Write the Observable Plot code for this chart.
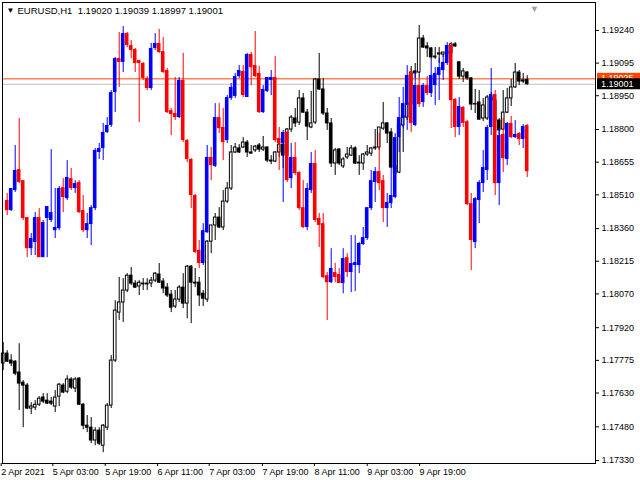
<!DOCTYPE html>
<html><head><meta charset="utf-8">
<script src="https://cdn.jsdelivr.net/npm/d3@7"></script>
<script src="https://cdn.jsdelivr.net/npm/@observablehq/plot@0.6"></script>
<style>body{margin:0;background:#fff}</style>
</head><body><div id="chart"></div>
<script>
const header = "EURUSD,H1  1.19020 1.19039 1.18997 1.19001";
const bOpen = [1.17761,1.17805,1.17774,1.17769,1.17721,1.17676,1.17663,1.17561,1.17565,1.17578,
1.17610,1.17596,1.17592,1.17570,1.17614,1.17663,1.17636,1.17690,1.17650,1.17694,
1.17578,1.17485,1.17476,1.17419,1.17463,1.17396,1.17476,1.17574,1.17774,1.17987,
1.18032,1.18085,1.18151,1.18116,1.18103,1.18116,1.18112,1.18116,1.18129,1.18156,
1.18125,1.18098,1.18067,1.18014,1.18045,1.18098,1.18027,1.18191,1.18120,1.18120,
1.18071,1.18045,1.18302,1.18374,1.18409,1.18365,1.18480,1.18538,1.18698,1.18716,
1.18720,1.18742,1.18698,1.18707,1.18729,1.18711,1.18720,1.18662,1.18658,1.18698,
1.18733,1.18684,1.18800,1.18849,1.18831,1.18938,1.18875,1.18809,1.18831,1.19022,
1.18978,1.18871,1.18827,1.18649,1.18711,1.18636,1.18676,1.18684,1.18716,1.18653,
1.18649,1.18689,1.18693,1.18720,1.18720,1.18804,1.18827,1.18787,1.18636,1.18609,
1.18818,1.18853,1.18911,1.19058,1.19053,1.19204,1.19169,1.19160,1.19124,1.19133,
1.19133,1.19142,1.19138,1.19178,1.19098,1.19035,1.19053,1.19027,1.18911,1.18920,
1.18849,1.18849,1.18942,1.18929,1.18840,1.18800,1.18875,1.18938,1.18987,1.19053,
1.19018,1.19020];
const bHigh = [1.17854,1.17818,1.17800,1.17774,1.17849,1.17685,1.17672,1.17587,1.17596,1.17614,
1.17627,1.17627,1.17610,1.17641,1.17672,1.17672,1.17707,1.17698,1.17698,1.17698,
1.17583,1.17530,1.17521,1.17476,1.17476,1.17490,1.17583,1.17796,1.18040,1.18143,
1.18138,1.18160,1.18187,1.18129,1.18129,1.18138,1.18138,1.18143,1.18165,1.18205,
1.18138,1.18116,1.18085,1.18085,1.18107,1.18160,1.18196,1.18196,1.18183,1.18143,
1.18085,1.18307,1.18374,1.18427,1.18453,1.18529,1.18565,1.18729,1.18738,1.18733,
1.18764,1.18751,1.18729,1.18729,1.18738,1.18769,1.18724,1.18684,1.18702,1.18738,
1.18738,1.18804,1.18862,1.18893,1.18973,1.18960,1.18889,1.18969,1.19027,1.19138,
1.19027,1.18893,1.18849,1.18716,1.18716,1.18676,1.18720,1.18729,1.18724,1.18684,
1.18693,1.18729,1.18720,1.18800,1.18809,1.18920,1.18831,1.18804,1.18676,1.18831,
1.18871,1.18929,1.19080,1.19093,1.19262,1.19218,1.19186,1.19164,1.19164,1.19164,
1.19142,1.19173,1.19186,1.19186,1.19102,1.19071,1.19058,1.19031,1.18978,1.18973,
1.18938,1.18951,1.18964,1.18938,1.18849,1.18973,1.18982,1.19022,1.19093,1.19062,
1.19049,1.19039];
const bLow = [1.17730,1.17765,1.17747,1.17707,1.17552,1.17476,1.17556,1.17534,1.17552,1.17570,
1.17583,1.17578,1.17574,1.17543,1.17570,1.17627,1.17627,1.17645,1.17632,1.17574,
1.17467,1.17454,1.17405,1.17396,1.17396,1.17365,1.17463,1.17561,1.17765,1.17952,
1.17943,1.18076,1.18107,1.18094,1.18063,1.18085,1.18085,1.18098,1.18120,1.18116,
1.18071,1.18054,1.17987,1.18005,1.18032,1.18005,1.17960,1.17938,1.18098,1.18014,
1.18014,1.18032,1.18249,1.18307,1.18360,1.18351,1.18471,1.18529,1.18693,1.18693,
1.18716,1.18676,1.18693,1.18698,1.18698,1.18702,1.18653,1.18644,1.18653,1.18676,
1.18627,1.18680,1.18787,1.18809,1.18818,1.18871,1.18751,1.18804,1.18822,1.18973,
1.18862,1.18796,1.18631,1.18596,1.18640,1.18627,1.18667,1.18680,1.18644,1.18596,
1.18618,1.18680,1.18680,1.18707,1.18707,1.18796,1.18738,1.18627,1.18565,1.18604,
1.18698,1.18840,1.18902,1.19027,1.19027,1.19160,1.19120,1.19106,1.19111,1.19093,
1.19120,1.19129,1.19129,1.19164,1.19022,1.19009,1.19018,1.18884,1.18871,1.18840,
1.18835,1.18840,1.18920,1.18818,1.18773,1.18796,1.18871,1.18902,1.18982,1.18995,
1.19004,1.18997];
const bClose = [1.17805,1.17769,1.17761,1.17716,1.17672,1.17663,1.17561,1.17570,1.17578,1.17605,
1.17592,1.17583,1.17583,1.17610,1.17667,1.17632,1.17690,1.17654,1.17690,1.17578,
1.17485,1.17476,1.17419,1.17463,1.17405,1.17485,1.17574,1.17774,1.17996,1.18032,
1.18085,1.18151,1.18116,1.18098,1.18120,1.18112,1.18116,1.18129,1.18160,1.18120,
1.18094,1.18063,1.18009,1.18045,1.18098,1.18027,1.18191,1.18120,1.18116,1.18063,
1.18049,1.18302,1.18374,1.18409,1.18365,1.18480,1.18538,1.18698,1.18720,1.18698,
1.18742,1.18698,1.18693,1.18724,1.18711,1.18720,1.18662,1.18658,1.18698,1.18733,
1.18684,1.18800,1.18853,1.18827,1.18938,1.18875,1.18813,1.18827,1.19022,1.18978,
1.18871,1.18827,1.18649,1.18707,1.18649,1.18667,1.18689,1.18716,1.18649,1.18649,
1.18689,1.18698,1.18716,1.18716,1.18809,1.18827,1.18782,1.18631,1.18604,1.18822,
1.18858,1.18915,1.19053,1.19049,1.19204,1.19164,1.19160,1.19120,1.19120,1.19138,
1.19142,1.19138,1.19178,1.19169,1.19035,1.19058,1.19027,1.18911,1.18913,1.18844,
1.18907,1.18942,1.18929,1.18840,1.18796,1.18875,1.18938,1.18987,1.19053,1.19013,
1.19013,1.19001];

const cStart = 1;
const cOpen = [1.18485,1.18440,1.18529,1.18622,1.18573,1.18409,1.18271,1.18298,1.18409,1.18231,
1.18405,1.18396,1.18351,1.18360,1.18542,1.18493,1.18582,1.18538,1.18565,1.18440,
1.18351,1.18378,1.18449,1.18698,1.18716,1.18787,1.18818,1.18964,1.19115,1.19098,
1.19226,1.19173,1.19155,1.19106,1.19093,1.19027,1.18982,1.19160,1.19182,1.19146,
1.19062,1.18884,1.18871,1.18853,1.19018,1.18751,1.18667,1.18507,1.18263,1.18205,
1.18342,1.18676,1.18636,1.18853,1.18809,1.18751,1.18938,1.18947,1.19035,1.19058,
1.18942,1.19133,1.19084,1.19049,1.18875,1.18969,1.19018,1.19031,1.18760,1.18738,
1.18787,1.18582,1.18676,1.18609,1.18453,1.18365,1.18529,1.18649,1.18405,1.18382,
1.18151,1.18120,1.18165,1.18156,1.18116,1.18231,1.18165,1.18196,1.18196,1.18289,
1.18316,1.18449,1.18565,1.18613,1.18573,1.18449,1.18471,1.18498,1.18764,1.18849,
1.18907,1.19049,1.18818,1.18995,1.18920,1.18995,1.18960,1.18995,1.19040,1.19062,
1.19093,1.19173,1.18933,1.18809,1.18898,1.18835,1.18471,1.18298,1.18485,1.18560,
1.18618,1.18809,1.18955,1.18560,1.18778,1.18667,1.18827,1.18764,1.18782,1.18756,1.18818];
const cHigh = [1.18516,1.18538,1.18729,1.18849,1.18573,1.18409,1.18338,1.18431,1.18449,1.18396,
1.18458,1.18711,1.18538,1.18547,1.18582,1.18662,1.18627,1.18573,1.18573,1.18507,
1.18427,1.18462,1.18716,1.18738,1.18827,1.18853,1.18973,1.19120,1.19231,1.19257,
1.19231,1.19195,1.19160,1.19106,1.19098,1.19035,1.19182,1.19226,1.19244,1.19209,
1.19071,1.18893,1.19031,1.19031,1.19138,1.18756,1.18671,1.18511,1.18307,1.18382,
1.18729,1.18720,1.18915,1.18915,1.18893,1.18951,1.19004,1.19049,1.19084,1.19084,
1.19138,1.19142,1.19235,1.19080,1.18995,1.19031,1.19062,1.19124,1.18809,1.18796,
1.18791,1.18738,1.18742,1.18613,1.18573,1.18560,1.18698,1.18707,1.18427,1.18427,
1.18165,1.18271,1.18205,1.18183,1.18271,1.18249,1.18329,1.18329,1.18298,1.18365,
1.18453,1.18618,1.18631,1.18782,1.18596,1.18516,1.18631,1.18782,1.18942,1.18987,
1.19084,1.19071,1.19053,1.19027,1.19004,1.19035,1.19106,1.19075,1.19115,1.19129,
1.19186,1.19182,1.18938,1.18942,1.18902,1.18840,1.18516,1.18498,1.18573,1.18707,
1.18818,1.19071,1.18973,1.18804,1.18849,1.18831,1.18858,1.18840,1.18787,1.18822,1.18822];
const cLow = [1.18418,1.18436,1.18520,1.18560,1.18396,1.18231,1.18240,1.18240,1.18231,1.18231,
1.18231,1.18387,1.18316,1.18351,1.18431,1.18485,1.18529,1.18516,1.18427,1.18342,
1.18316,1.18285,1.18440,1.18667,1.18662,1.18782,1.18809,1.18875,1.18987,1.19053,
1.19164,1.19115,1.19053,1.18831,1.19018,1.18973,1.18973,1.19151,1.19138,1.19049,
1.18871,1.18773,1.18840,1.18849,1.18742,1.18653,1.18449,1.18249,1.18183,1.18196,
1.18338,1.18573,1.18631,1.18782,1.18662,1.18738,1.18929,1.18938,1.19027,1.18942,
1.18942,1.18995,1.19031,1.18871,1.18871,1.18964,1.18951,1.18742,1.18618,1.18476,
1.18565,1.18538,1.18596,1.18440,1.18360,1.18351,1.18516,1.18387,1.18276,1.18138,
1.17952,1.18116,1.18120,1.18116,1.18071,1.18143,1.18076,1.18080,1.18160,1.18285,
1.18307,1.18440,1.18476,1.18529,1.18387,1.18365,1.18449,1.18493,1.18698,1.18804,
1.18796,1.18787,1.18813,1.18898,1.18898,1.18951,1.18942,1.18907,1.18929,1.19018,
1.19084,1.18804,1.18764,1.18773,1.18809,1.18462,1.18174,1.18271,1.18382,1.18520,
1.18573,1.18773,1.18507,1.18462,1.18609,1.18640,1.18760,1.18760,1.18729,1.18716,1.18587];
const cClose = [1.18440,1.18538,1.18618,1.18565,1.18405,1.18271,1.18316,1.18409,1.18231,1.18387,
1.18458,1.18431,1.18365,1.18538,1.18498,1.18587,1.18538,1.18560,1.18431,1.18351,
1.18382,1.18453,1.18707,1.18716,1.18787,1.18818,1.18964,1.19115,1.19098,1.19226,
1.19173,1.19151,1.19093,1.19093,1.19027,1.18982,1.19160,1.19182,1.19142,1.19053,
1.18875,1.18867,1.18853,1.19018,1.18751,1.18667,1.18507,1.18254,1.18205,1.18351,
1.18676,1.18640,1.18853,1.18804,1.18742,1.18942,1.18987,1.19035,1.19062,1.18951,
1.19133,1.19075,1.19035,1.18875,1.18978,1.19031,1.19031,1.18751,1.18738,1.18787,
1.18573,1.18676,1.18604,1.18449,1.18365,1.18538,1.18649,1.18396,1.18374,1.18143,
1.18120,1.18183,1.18143,1.18116,1.18227,1.18165,1.18205,1.18209,1.18294,1.18320,
1.18453,1.18573,1.18613,1.18560,1.18449,1.18476,1.18507,1.18764,1.18853,1.18915,
1.19040,1.18827,1.18995,1.18911,1.18995,1.18960,1.19040,1.19049,1.19075,1.19098,
1.19173,1.18929,1.18809,1.18902,1.18827,1.18467,1.18307,1.18493,1.18565,1.18631,
1.18809,1.18955,1.18560,1.18773,1.18671,1.18827,1.18764,1.18778,1.18756,1.18813,1.18613];

const xTickPos = [0, 12.9, 26, 39.1, 52, 65.3, 78.3, 91.5, 104.6];
const xTickLabels = ["2 Apr 2021","5 Apr 03:00","5 Apr 19:00","6 Apr 11:00","7 Apr 03:00","7 Apr 19:00","8 Apr 11:00","9 Apr 03:00","9 Apr 19:00"];
const yTicks = [1.19240,1.19095,1.18950,1.18800,1.18655,1.18510,1.18360,1.18215,1.18070,1.17920,1.17775,1.17630,1.17480,1.17330];
const askPrice = 1.19025, bidPrice = 1.19001;
const shiftMarker = [132.8];

const black = bOpen.map((o, i) => ({i, open: o, high: bHigh[i], low: bLow[i], close: bClose[i]}));
const colored = cOpen.map((o, k) => ({i: k + cStart, open: o, high: cHigh[k], low: cLow[k], close: cClose[k]}));
const cColor = d => d.close >= d.open ? "#0000ff" : "#ff0000";
const labelMap = new Map(xTickPos.map((p, k) => [p, xTickLabels[k]]));
const fmt = d3.format(".5f");

const priceBoxes = (index, scales, values, dim) => {
  const g = d3.create("svg:g");
  const x0 = dim.width - dim.marginRight;
  for (const [p, fill] of [[askPrice, "#ff4500"], [bidPrice, "#000000"]]) {
    const y = scales.y(p);
    g.append("rect").attr("x", x0 + 2).attr("y", y - 5.5).attr("width", dim.marginRight - 2).attr("height", 11).attr("fill", fill);
    g.append("text").attr("x", x0 + 6).attr("y", y).attr("dy", "0.35em").attr("fill", "#fff")
      .attr("text-anchor", "start").attr("font-size", 9).attr("font-family", "Liberation Sans").text(fmt(p));
  }
  return g.node();
};

const chart = Plot.plot({
  width: 640, height: 480,
  marginLeft: 2, marginRight: 45, marginTop: 2, marginBottom: 17,
  style: {fontFamily: "Liberation Sans", fontSize: "9px", background: "#fff", color: "#000"},
  x: {domain: [-0.175, 148.075], axis: null},
  y: {domain: [1.17317, 1.19364], axis: null},
  marks: [
    Plot.ruleY([askPrice], {stroke: "#ff4500"}),
    Plot.ruleY([bidPrice], {stroke: "#c0c0c0"}),
    Plot.ruleX(black, {x: "i", y1: "low", y2: "high", stroke: "#000"}),
    Plot.rect(black, {x1: d => d.i - 0.33, x2: d => d.i + 0.33, y1: "open", y2: "close",
      fill: d => d.close >= d.open ? "#fff" : "#000", stroke: "#000", strokeWidth: 1}),
    Plot.ruleX(colored, {x: "i", y1: "low", y2: "high", stroke: cColor}),
    Plot.rect(colored, {x1: d => d.i - 0.45, x2: d => d.i + 0.45, y1: "open", y2: "close", fill: cColor}),
    Plot.frame({stroke: "#000"}),
    Plot.axisY({anchor: "right", ticks: yTicks, tickFormat: fmt, tickSize: 3, tickPadding: 3, label: null, fontSize: 9}),
    Plot.axisX({ticks: xTickPos, tickFormat: d => labelMap.get(d), textAnchor: "start", tickSize: 3, tickPadding: 2, dx: -2, label: null, fontSize: 9}),
    priceBoxes,
    Plot.text([header], {text: d => d, frameAnchor: "top-left", dx: 15, dy: 5, textAnchor: "start", fontSize: 9.5, fill: "#000"}),
    Plot.text(["\u25BC"], {text: d => d, frameAnchor: "top-left", dx: 4, dy: 5, textAnchor: "start", fontSize: 8, fill: "#000"}),
    Plot.text(shiftMarker, {x: d => d, text: () => "\u25BC", frameAnchor: "top", dy: 3, fontSize: 9, fill: "#a0a0a0"})
  ]
});
document.getElementById("chart").appendChild(chart);
</script>
</body></html>
